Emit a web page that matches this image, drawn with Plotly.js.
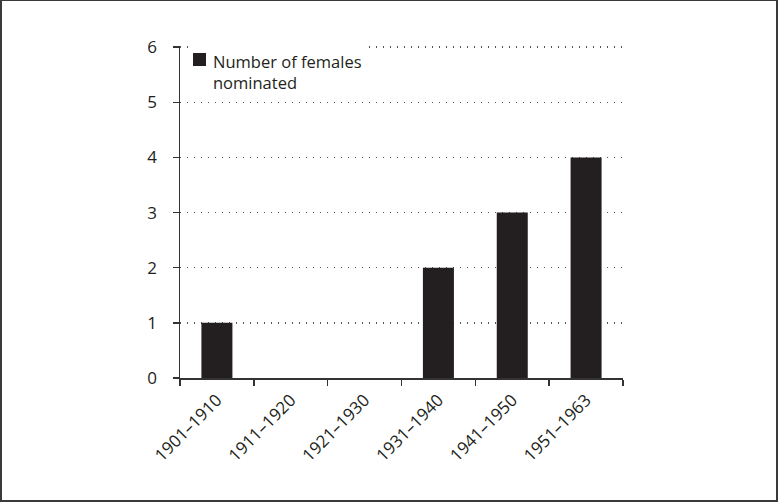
<!DOCTYPE html>
<html><head><meta charset="utf-8">
<script src="https://cdn.plot.ly/plotly-3.0.1.min.js"></script>
<style>
html,body{margin:0;padding:0;background:#fff;}
#wrap{position:relative;width:778px;height:502px;}
#chart{position:absolute;left:0;top:0;width:778px;height:502px;}
#frame{position:absolute;left:0;top:0;width:778px;height:502px;box-sizing:border-box;border:2px solid #3a3a3a;border-top-width:1px;pointer-events:none;}
</style></head>
<body>
<div id="wrap"><div id="chart"></div><div id="frame"></div></div>
<script>
const categories = ["1901–1910","1911–1920","1921–1930","1931–1940","1941–1950","1951–1963"];
const femalesNominated = [1, 0, 0, 2, 3, 4];
const seriesName = "Number of females<br>nominated";
const yTickValues = [0, 1, 2, 3, 4, 5, 6];

const barColor = "#231f20";

const trace = {
  type: "bar",
  x: categories,
  y: femalesNominated,
  name: seriesName,
  showlegend: false,
  width: 0.42,
  marker: {color: barColor, line: {width: 0}}
};

const layout = {
  width: 778, height: 502,
  margin: {l: 180, r: 155, t: 46, b: 124, pad: 0},
  paper_bgcolor: "#fff", plot_bgcolor: "#fff",
  font: {family: "Open Sans, Noto Sans, sans-serif", size: 16, color: "#231f20"},
  showlegend: false,
  xaxis: {
    type: "category", range: [-0.5, 5.5],
    showline: true, linecolor: "#333", linewidth: 1.5,
    ticks: "outside", ticklen: 6, tickcolor: "#333", tickwidth: 1.5,
    tickson: "boundaries", tickangle: -45, showgrid: false,
    ticklabelstandoff: 4,
    tickfont: {size: 17}
  },
  yaxis: {
    range: [0, 6.02], tickvals: yTickValues,
    showline: true, linecolor: "#333", linewidth: 1.5,
    ticks: "outside", ticklen: 6, tickcolor: "#333", tickwidth: 1.5,
    showgrid: true, gridcolor: "#555", gridwidth: 1.4, griddash: "1.4px,5.6px",
    zeroline: false, ticklabelstandoff: 12,
    tickfont: {size: 17}
  },
  shapes: [
    {type: "rect", xref: "paper", yref: "paper", layer: "above",
     xsizemode: "pixel", xanchor: 0, x0: 8, x1: 188,
     ysizemode: "pixel", yanchor: 1, y0: 2, y1: -50,
     fillcolor: "#fff", line: {width: 0}},
    {type: "rect", xref: "paper", yref: "paper", layer: "above",
     xsizemode: "pixel", xanchor: 0, x0: 13, x1: 26,
     ysizemode: "pixel", yanchor: 1, y0: -7, y1: -20,
     fillcolor: barColor, line: {width: 0}}
  ],
  annotations: [
    {xref: "paper", yref: "paper", x: 0, y: 1, xanchor: "left", yanchor: "top",
     xshift: 31, yshift: -2, align: "left", showarrow: false,
     text: seriesName, font: {size: 16.5, color: "#231f20"}}
  ]
};

Plotly.newPlot("chart", [trace], layout, {displayModeBar: false, staticPlot: true});
</script>
</body></html>
